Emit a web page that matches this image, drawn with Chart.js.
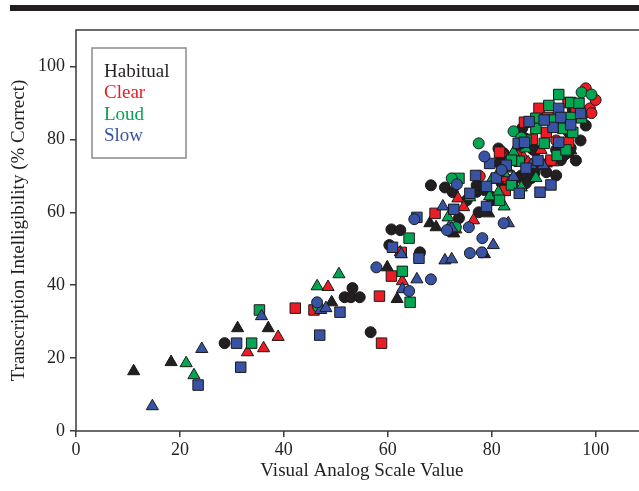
<!DOCTYPE html>
<html>
<head>
<meta charset="utf-8">
<script src="https://cdn.jsdelivr.net/npm/chart.js@4.4.0/dist/chart.umd.min.js"></script>
<style>
  html, body { margin: 0; padding: 0; background: #fff; overflow: hidden; }
  #wrap { position: relative; width: 639px; height: 491px; overflow: hidden; }
  #topBar { position: absolute; left: 10px; top: 5px; width: 640px; height: 6px; background: #231f20; }
  canvas { position: absolute; left: 0; top: 0; }
</style>
</head>
<body>
<div id="wrap">
  <div id="topBar"></div>
  <canvas id="myChart" width="656" height="491"></canvas>
</div>
<script>
// tick values
const xTicks = [0, 20, 40, 60, 80, 100];
const yTicks = [0, 20, 40, 60, 80, 100];
const seriesNames = ['Habitual', 'Clear', 'Loud', 'Slow'];

// [visual analog scale value, % correct]
const habitualCircles = [[28.6,24.1],[51.7,36.7],[53.2,39.2],[52.9,36.7],[54.6,36.7],[56.7,27.1],[60.3,51.0],[60.7,55.3],[62.4,55.1],[66.2,49.0],[68.3,67.4],[71.0,66.8],[73.7,58.4],[77.1,67.4],[77.5,60.0],[81.3,77.5],[81.7,75.3],[82.3,76.2],[94.8,76.4],[90.5,71.0],[88.2,70.7],[81.5,73.4],[83.8,68.8],[85.7,70.1],[92.4,70.1],[97.1,79.7],[98.1,83.8],[96.2,74.2],[80.0,63.3],[75.2,63.3],[72.5,65.5],[88.5,77.0],
    [85.9,83.1],[86.3,80.4],[85.1,77.6],[88.0,77.1],[88.5,72.4],[94.8,82.0],[95.6,88.1],[98.7,88.1],[77.1,65.6],[78.6,66.1],[80.0,64.2],[81.9,68.0],[84.7,69.4],[87.6,69.4],[86.6,68.0],[92.4,77.1],[93.3,74.3],[95.2,77.6],[93.9,75.6]];
const habitualTriangles = [[11.1,16.4],[18.3,18.9],[31.1,28.2],[37.0,28.2],[49.2,35.3],[59.9,44.9],[61.8,36.2],[68.1,57.0],[69.3,55.9],[72.7,54.2],[78.6,48.5],[79.4,59.7],[86.6,69.3],[95.2,77.0],[82.1,66.6]];

const clearCircles = [[98.1,94.0],[98.9,88.5],[92.4,79.7],[77.7,69.9],[100.0,90.8],[99.2,87.2]];
const clearSquares = [[42.2,33.7],[45.8,33.2],[58.4,37.0],[58.8,24.1],[60.7,42.5],[62.6,49.0],[69.1,59.7],[82.6,66.0],[86.3,84.7],[89.1,88.5],[90.8,86.0],[90.5,81.9],[94.8,79.2],[94.7,90.1],[84.7,75.6],[96.2,87.9],[98.5,87.5],
    [81.5,76.5],[91.4,74.3],[87.8,80.0]];
const clearTriangles = [[33.0,21.6],[36.1,22.7],[38.9,25.8],[48.5,39.5],[62.8,41.1],[62.4,49.0],[73.1,55.3],[73.5,63.8],[74.6,61.4],[76.5,57.8],[82.4,75.9],[86.1,75.1],[87.0,73.7],[81.5,69.3],[83.2,68.8],[84.4,67.1],[90.5,73.4],[91.8,73.7],
    [81.9,76.3],[84.2,74.3],[82.3,69.4],[89.5,77.1],[83.0,72.0]];

const loudCircles = [[46.6,34.0],[72.3,69.3],[73.1,55.9],[77.5,78.9],[84.2,82.2],[85.7,80.5],[97.3,92.9],[99.2,92.3]];
const loudSquares = [[33.8,24.1],[35.3,33.2],[62.8,43.8],[64.3,35.3],[64.1,52.9],[73.7,69.3],[81.5,63.3],[85.3,74.0],[90.1,78.9],[92.6,75.6],[88.5,85.8],[88.5,83.0],[93.7,83.0],[95.2,86.0],[95.2,90.1],[96.8,89.9],[92.9,92.3],[91.0,89.3],[95.6,81.9],
    [97.3,85.9],[91.8,85.3],[83.8,74.3],[83.8,67.5],[86.6,79.8],[94.3,77.1]];
const loudTriangles = [[21.2,18.6],[22.7,15.3],[46.4,39.7],[50.6,43.0],[71.6,58.6],[75.8,64.1],[79.6,64.4],[81.3,65.5],[82.4,61.6],[85.7,66.8],[82.4,70.7],[84.2,76.4],[86.5,77.5],
    [81.3,70.8],[80.0,68.9],[88.5,69.4]];

const slowCircles = [[46.4,35.3],[57.8,44.9],[64.1,38.4],[68.3,41.6],[65.1,58.1],[75.6,55.9],[75.8,48.8],[78.1,49.0],[78.2,52.9],[73.3,67.7],[78.6,75.3],[82.3,57.0],[71.4,55.1],[81.9,71.6]];
const slowSquares = [[23.5,12.6],[30.9,24.1],[31.7,17.5],[46.9,26.3],[50.8,32.6],[60.9,50.4],[66.0,47.4],[65.6,58.6],[72.7,60.8],[75.8,65.2],[76.9,70.1],[79.0,67.1],[79.0,61.6],[79.6,73.4],[82.8,72.9],[85.1,78.9],[86.3,79.2],[85.3,65.2],[86.6,72.1],[88.9,74.2],[89.3,65.5],[87.2,84.9],[91.8,83.3],[92.9,88.5],[93.3,86.0],[97.1,87.1],[92.9,79.2],
    [95.2,84.0],[90.1,85.3],[80.9,69.4],[91.4,67.5]];
const slowTriangles = [[14.7,6.8],[24.2,22.5],[35.7,31.5],[47.1,33.2],[48.1,33.7],[62.8,38.9],[65.6,41.6],[62.6,48.5],[70.6,61.6],[71.8,55.9],[72.3,55.6],[71.0,46.8],[72.3,47.1],[89.9,72.9],[80.3,51.0],[83.2,57.0],[84.2,69.7],[87.6,73.0]];

const colors = { Habitual: '#231f20', Clear: '#ed1c24', Loud: '#00a651', Slow: '#3953a4' };
const radius = { circle: 5.5, rect: 7.4, triangle: 7 };
const serif = 'Liberation Serif';

function makeSet(name, shape, pts, order) {
    return {
        label: name,
        data: pts.map(p => ({x: p[0], y: p[1]})),
        pointStyle: shape,
        pointRadius: radius[shape],
        pointHoverRadius: radius[shape],
        backgroundColor: colors[name],
        borderColor: '#1a1a1a',
        borderWidth: 1,
        showLine: false,
        order: order
    };
}

const datasets = [
    makeSet('Habitual', 'circle', habitualCircles, 4),
    makeSet('Habitual', 'triangle', habitualTriangles, 4),
    makeSet('Clear', 'circle', clearCircles, 3),
    makeSet('Clear', 'rect', clearSquares, 3),
    makeSet('Clear', 'triangle', clearTriangles, 3),
    makeSet('Loud', 'circle', loudCircles, 2),
    makeSet('Loud', 'rect', loudSquares, 2),
    makeSet('Loud', 'triangle', loudTriangles, 2),
    makeSet('Slow', 'circle', slowCircles, 1),
    makeSet('Slow', 'rect', slowSquares, 1),
    makeSet('Slow', 'triangle', slowTriangles, 1)
];

// frame round the plot + legend box with coloured names
const framePlugin = {
    id: 'frame',
    beforeDatasetsDraw(chart) {
        const {ctx, chartArea: a} = chart;
        ctx.save();
        ctx.strokeStyle = '#3a3a3a';
        ctx.lineWidth = 1.5;
        ctx.strokeRect(a.left, a.top, a.right - a.left, a.bottom - a.top);
        ctx.restore();
    },
    afterDatasetsDraw(chart) {
        const {ctx, chartArea: a} = chart;
        ctx.save();
        ctx.strokeStyle = '#8a8a8a';
        ctx.lineWidth = 1.5;
        ctx.strokeRect(a.left + 16, a.top + 18, 94, 110);
        ctx.font = '19px "' + serif + '"';
        ctx.textBaseline = 'middle';
        ctx.textAlign = 'left';
        seriesNames.forEach((n, i) => {
            ctx.fillStyle = colors[n];
            ctx.fillText(n, a.left + 28, a.top + 42 + i * 21.5);
        });
        ctx.restore();
    }
};

const tickGrid = { drawOnChartArea: false, drawTicks: true, tickLength: 6, color: '#3a3a3a', lineWidth: 1.5 };

const ctx = document.getElementById('myChart');
const myChart = new Chart(ctx, {
    type: 'scatter',
    data: { datasets: datasets },
    options: {
        responsive: false,
        animation: false,
        layout: { padding: { top: 30, right: 3.6, left: 0, bottom: 0 } },
        plugins: { legend: { display: false }, tooltip: { enabled: false } },
        scales: {
            x: {
                type: 'linear', min: 0, max: 110,
                afterBuildTicks: s => { s.ticks = xTicks.map(v => ({value: v})); },
                afterFit: s => { s.height = 60; },
                grid: tickGrid,
                border: { display: false },
                ticks: { color: '#231f20', font: { family: serif, size: 18 }, padding: 2, maxRotation: 0 },
                title: { display: true, text: 'Visual Analog Scale Value', color: '#231f20',
                         font: { family: serif, size: 19 }, padding: { top: 0, bottom: 9 } }
            },
            y: {
                type: 'linear', min: 0, max: 110,
                afterBuildTicks: s => { s.ticks = yTicks.map(v => ({value: v})); },
                afterFit: s => { s.width = 76; },
                grid: tickGrid,
                border: { display: false },
                ticks: { color: '#231f20', font: { family: serif, size: 18 }, padding: 5 },
                title: { display: true, text: 'Transcription Intelligibility (% Correct)', color: '#231f20',
                         font: { family: serif, size: 19 }, padding: { top: 8, bottom: 0 } }
            }
        }
    },
    plugins: [framePlugin]
});
</script>
</body>
</html>
